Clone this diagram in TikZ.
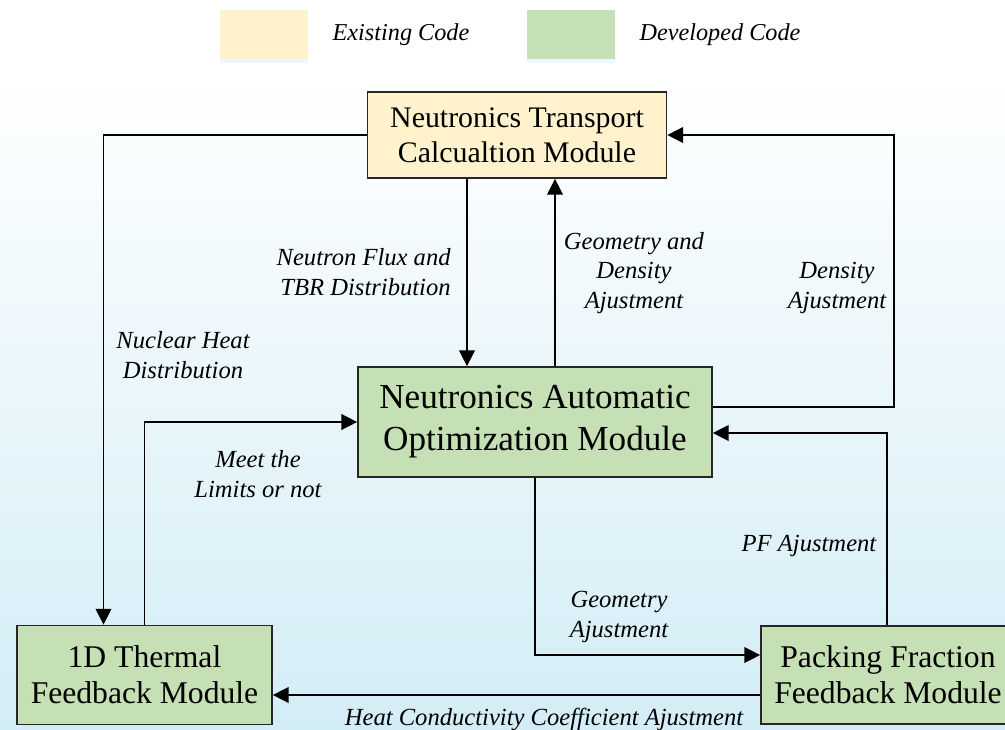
\documentclass[tikz,border=0pt]{standalone}
\usepackage{fontspec}
\setmainfont{Liberation Serif}
\usepackage{xcolor}
\usetikzlibrary{arrows.meta,calc,shadows}
\definecolor{existing}{HTML}{FFF2CC}
\definecolor{developed}{HTML}{C5E0B4}
\definecolor{backdrop}{HTML}{D3EDF6}

\begin{document}
\begin{tikzpicture}[x=0.02cm,y=-0.02cm,
    module/.style={draw=black!85,line width=1pt,inner sep=0pt,align=center},
    legendbox/.style={inner sep=0pt,minimum width=1.76cm,minimum height=0.98cm,
      drop shadow={shadow xshift=0pt,shadow yshift=-2.5pt,fill=blue!40!cyan!30,opacity=0.25}},
    note/.style={font=\fontsize{14}{16.8}\selectfont\itshape,align=center,inner sep=0pt},
    ->/.style={draw,line width=0.8pt,-{Triangle[length=9pt,width=9pt]}}]
        \useasboundingbox (0,0) rectangle (1005,730);
        \fill[top color=white,bottom color=backdrop] (0,70) rectangle (1005,730);

        % legend
        \path
        (264,34.5) node[legendbox,fill=existing](keyold) {}
        (401,35) node[note,font=\fontsize{13.8}{16}\selectfont\itshape](txtold) {Existing Code}
        (571,34.5) node[legendbox,fill=developed](keynew) {}
        (720,35) node[note,font=\fontsize{13.8}{16}\selectfont\itshape](txtnew) {Developed Code}
        ;

        % modules
        \path
        (517,135) node[module,fill=existing,minimum width=5.98cm,minimum height=1.72cm,
          font=\fontsize{17}{20}\selectfont](trans) {Neutronics Transport\\Calcualtion Module}
        (535,422) node[module,fill=developed,minimum width=7.08cm,minimum height=2.2cm,
          font=\fontsize{20}{24}\selectfont](opt) {Neutronics Automatic\\Optimization Module}
        (144.5,675) node[module,fill=developed,minimum width=5.1cm,minimum height=1.98cm,
          font=\fontsize{18}{20.5}\selectfont](thermal) {1D Thermal\\Feedback Module}
        (888,675) node[module,fill=developed,minimum width=5.08cm,minimum height=1.96cm,
          font=\fontsize{18}{20.5}\selectfont](pack) {Packing Fraction\\Feedback Module}
        ;

        % labels
        \path
        (183,355) node[note](lheat) {Nuclear Heat\\Distribution}
        (451,272) node[note,anchor=east,align=right](lflux) {Neutron Flux and\\TBR Distribution}
        (634,273) node[note](lgeodens) {Geometry and\\Density\\Ajustment}
        (837,288) node[note](ldens) {Density\\Ajustment}
        (258,474) node[note](llimit) {Meet the\\Limits or not}
        (809,546) node[note](lpf) {PF Ajustment}
        (619,617) node[note](lgeo) {Geometry\\Ajustment}
        (544,719) node[note](lheatc) {Heat Conductivity Coefficient Ajustment}
        ;

        \draw[->] (trans.west) -| ($(thermal.north)+(-41,0)$);
        \draw[->] ($(trans.south)+(-50,0)$) -- ($(opt.north)+(-68,0)$);
        \draw[->] ($(opt.north)+(20,0)$) -- ($(trans.south)+(38,0)$);
        \draw[->] ($(opt.east)+(0,-15)$) -- ++(181,0) |- (trans.east);
        \draw[->] ($(pack.north)+(-1,0)$) |- ($(opt.east)+(0,11)$);
        \draw[->] (opt.south) |- ($(pack.west)+(0,-20)$);
        \draw[->] ($(pack.west)+(0,20)$) -- ($(thermal.east)+(0,20)$);
        \draw[->] (thermal.north) |- (opt.west);
      \end{tikzpicture}
\end{document}
